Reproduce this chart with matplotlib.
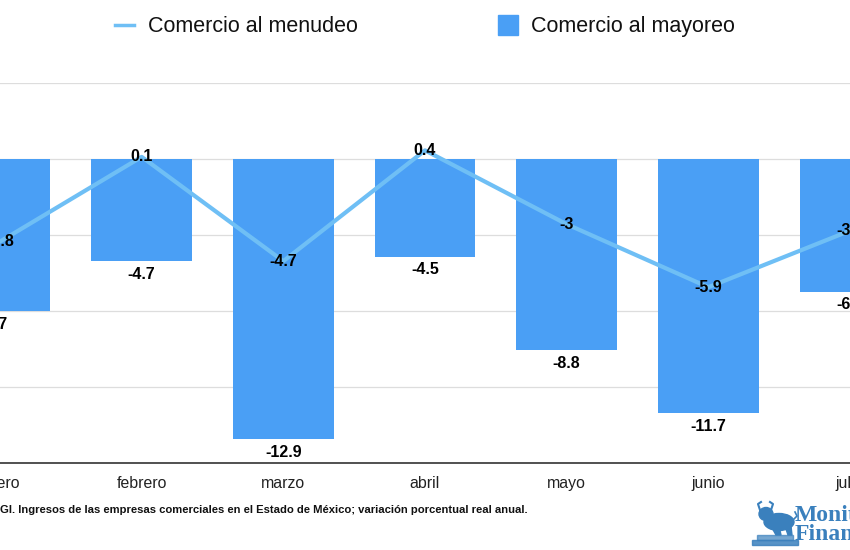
import matplotlib
matplotlib.use("Agg")
import matplotlib.pyplot as plt
from matplotlib.lines import Line2D
from matplotlib.patches import Ellipse, Rectangle, Polygon
import numpy as np

MESES = ["enero", "febrero", "marzo", "abril", "mayo", "junio", "julio"]
MENUDEO = [-3.8, 0.1, -4.7, 0.4, -3.0, -5.9, -3.3]
MAYOREO = [-7.0, -4.7, -12.9, -4.5, -8.8, -11.7, -6.1]
Y_TICKS = [-14, -10.5, -7, -3.5, 0, 3.5]

BAR_COLOR = "#4a9ff5"
LINE_COLOR = "#6fbff5"
TEXT_COLOR = "#000000"
GRID_COLOR = "#dddddd"
LOGO_COLOR = "#3a80bd"

plt.rcParams["font.family"] = ["Liberation Sans", "DejaVu Sans"]


def fmt(v):
    s = f"{v:.1f}"
    return s[:-2] if s.endswith(".0") else s


fig = plt.figure(figsize=(8.5, 5.5), dpi=100)
ax = fig.add_axes([0.0, 0.158, 1.0, 0.691])

x = np.arange(len(MESES))
ax.bar(x, MAYOREO, 0.71, color=BAR_COLOR, zorder=2)
ax.plot(x, MENUDEO, color=LINE_COLOR, lw=3, zorder=3, solid_capstyle="round")

for xi, v in zip(x, MAYOREO):
    ax.annotate(fmt(v), (xi, v), xytext=(0, -4), textcoords="offset points",
                ha="center", va="top", fontsize=11.5, fontweight="bold",
                color=TEXT_COLOR, zorder=4)
for xi, v in zip(x, MENUDEO):
    ax.annotate(fmt(v), (xi, v), ha="center", va="center",
                fontsize=11.5, fontweight="bold", color=TEXT_COLOR, zorder=4)

ax.set_xlim(0.0056, 5.987)
ax.set_ylim(-14, 3.5)
ax.set_yticks(Y_TICKS)
ax.set_yticklabels([])
ax.tick_params(axis="y", length=0)
ax.set_xticks(x)
ax.set_xticklabels(MESES, fontsize=11.4, color="#222222")
ax.tick_params(axis="x", length=0, pad=9)
ax.spines[["top", "right", "left"]].set_visible(False)
ax.spines["bottom"].set_color("#333333")
ax.spines["bottom"].set_linewidth(1.2)
ax.yaxis.grid(True, color=GRID_COLOR, linewidth=0.9, zorder=0)
ax.set_axisbelow(True)

handles = [
    Line2D([], [], color=LINE_COLOR, lw=2.5),
    Line2D([], [], color=BAR_COLOR, marker="s", markersize=14, linestyle="none"),
]
fig.legend(handles, ["Comercio al menudeo", "Comercio al mayoreo"],
           loc="center", bbox_to_anchor=(0.5, 0.951), ncol=2, frameon=False,
           fontsize=15.5, handlelength=0.9, handletextpad=0.65,
           columnspacing=6.5, labelcolor="#111111")

fig.text(0.0, 0.073,
         "GI. Ingresos de las empresas comerciales en el Estado de México; "
         "variación porcentual real anual.",
         ha="left", va="center", fontsize=8.1, fontweight="bold", color="#111111")

# watermark logo (bottom right), drawn in pixel coords on an overlay
lg = fig.add_axes([0, 0, 1, 1], facecolor="none")
lg.set_xlim(0, 850)
lg.set_ylim(550, 0)
lg.axis("off")
lg.add_patch(Rectangle((752, 540), 46, 5, color=LOGO_COLOR, alpha=0.85))
lg.add_patch(Rectangle((757, 535), 36, 5, color=LOGO_COLOR, alpha=0.7))
lg.add_patch(Ellipse((779, 522), 30, 17, color=LOGO_COLOR))
lg.add_patch(Ellipse((766, 514), 14, 13, color=LOGO_COLOR))
lg.add_patch(Polygon([[771, 526], [776, 535], [781, 535], [779, 526]], color=LOGO_COLOR))
lg.add_patch(Polygon([[785, 526], [788, 535], [792, 535], [791, 526]], color=LOGO_COLOR))
lg.plot([760, 758, 761], [510, 504, 502], color=LOGO_COLOR, lw=1.5)
lg.plot([771, 773, 770], [510, 504, 502], color=LOGO_COLOR, lw=1.5)
lg.plot([793, 797, 795], [520, 516, 512], color=LOGO_COLOR, lw=1.2)
fig.text(795 / 850, 1 - 525 / 550, "Monitor\nFinanciero", ha="left",
         va="center", fontsize=17, fontweight="bold", family="Liberation Serif",
         color=LOGO_COLOR, linespacing=0.85)

fig.savefig("out.png", dpi=100)
